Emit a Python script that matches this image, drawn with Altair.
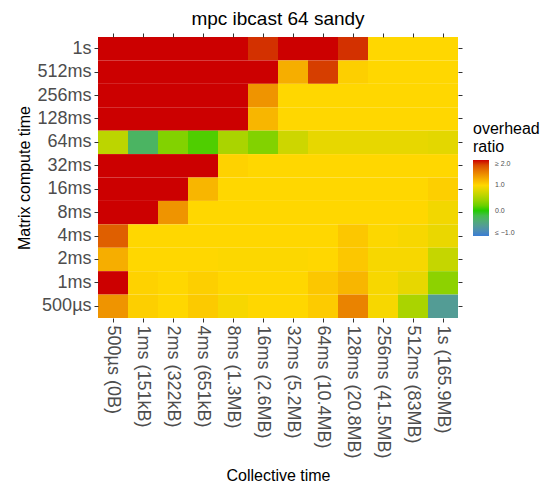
import altair as alt
import pandas as pd

rows = ["1s", "512ms", "256ms", "128ms", "64ms", "32ms", "16ms", "8ms",
        "4ms", "2ms", "1ms", "500µs"]
cols = ["500µs (0B)", "1ms (151kB)", "2ms (322kB)", "4ms (651kB)", "8ms (1.3MB)",
        "16ms (2.6MB)", "32ms (5.2MB)", "64ms (10.4MB)", "128ms (20.8MB)",
        "256ms (41.5MB)", "512ms (83MB)", "1s (165.9MB)"]

# overhead ratio, one list per row (top to bottom), columns left to right
r_1s    = [2.6, 2.6, 2.6, 2.6, 2.6, 1.9, 2.6, 2.6, 1.9, 1.0, 1.0, 1.0]
r_512ms = [2.6, 2.6, 2.6, 2.6, 2.6, 2.6, 1.25, 1.85, 1.05, 1.0, 1.0, 1.0]
r_256ms = [2.6, 2.6, 2.6, 2.6, 2.6, 1.4, 1.0, 1.0, 1.0, 1.0, 1.0, 1.0]
r_128ms = [2.6, 2.6, 2.6, 2.6, 2.6, 1.2, 1.0, 1.0, 1.0, 1.0, 1.0, 1.0]
r_64ms  = [0.6, -0.3, 0.3, 0.1, 0.5, 0.3, 0.7, 0.85, 0.85, 0.85, 0.85, 0.83]
r_32ms  = [2.6, 2.6, 2.6, 2.6, 1.03, 1.0, 1.0, 1.0, 1.0, 1.0, 1.0, 1.0]
r_16ms  = [2.6, 2.6, 2.6, 1.2, 1.0, 1.0, 1.0, 1.0, 1.0, 1.0, 1.0, 1.05]
r_8ms   = [2.6, 2.6, 1.4, 1.0, 1.0, 1.0, 1.0, 1.0, 1.0, 1.0, 1.0, 0.92]
r_4ms   = [1.7, 1.0, 1.0, 1.0, 1.0, 1.0, 1.0, 1.0, 1.1, 0.98, 0.95, 0.87]
r_2ms   = [1.25, 1.0, 1.0, 1.0, 0.98, 0.98, 0.98, 1.0, 1.1, 0.95, 0.95, 0.65]
r_1ms   = [2.3, 1.03, 1.0, 1.05, 1.0, 1.0, 1.0, 1.1, 1.2, 0.95, 0.85, 0.35]
r_500us = [1.4, 1.05, 1.0, 1.08, 0.95, 1.0, 1.0, 1.07, 1.5, 0.95, 0.5, -0.6]

grid = [r_1s, r_512ms, r_256ms, r_128ms, r_64ms, r_32ms, r_16ms, r_8ms,
        r_4ms, r_2ms, r_1ms, r_500us]

records = []
for rname, vals in zip(rows, grid):
    for cname, v in zip(cols, vals):
        records.append({"row": rname, "col": cname, "ratio": v})
df = pd.DataFrame(records)

FONT = "Liberation Sans"
label_color = "#4d4d4d"

color_scale = alt.Scale(domain=[-1, 0, 1, 2],
                        range=["#3a7dd4", "#22cc00", "#ffd700", "#cc0000"],
                        interpolate="lab", clamp=True)

xscale = alt.Scale(paddingInner=0, paddingOuter=0)
yscale = alt.Scale(paddingInner=0, paddingOuter=0)

axis_common = dict(domain=False, grid=False, ticks=True, tickColor="#333333",
                   tickSize=4, tickWidth=1, labelFont=FONT, labelColor=label_color,
                   labelFontSize=18, titleFont=FONT, titleFontSize=16,
                   titleFontWeight="normal", titleColor="black", labelPadding=3)

heat = alt.Chart(df).mark_rect().encode(
    x=alt.X("col:N", sort=cols, scale=xscale,
            axis=alt.Axis(title="Collective time", labelAngle=90, titlePadding=9,
                          **axis_common)),
    y=alt.Y("row:N", sort=rows, scale=yscale,
            axis=alt.Axis(title="Matrix compute time", titlePadding=4, **axis_common)),
    color=alt.Color("ratio:Q", scale=color_scale,
                    legend=alt.Legend(
                        title=["overhead", "ratio"], titleFont=FONT, titleFontSize=16,
                        titleFontWeight="normal", titleColor="black",
                        values=[-1, 0, 1, 2], gradientLength=76, gradientThickness=16,
                        labelFontSize=7, labelFont=FONT, labelColor=label_color,
                        labelAlign="right", labelOffset=6,
                        labelExpr="datum.value >= 2 ? '≥ 2.0' : datum.value <= -1 ? '≤ −1.0' : format(datum.value, '.1f')",
                        orient="none", legendX=375, legendY=84, direction="vertical",
                        gradientStrokeWidth=0)),
)

mirror = alt.Chart(df).mark_rect(opacity=0).encode(
    x=alt.X("col:N", sort=cols, scale=xscale,
            axis=alt.Axis(orient="top", labels=False, title=None, domain=False,
                          grid=False, tickColor="#333333", tickSize=4, tickWidth=1)),
    y=alt.Y("row:N", sort=rows, scale=yscale,
            axis=alt.Axis(orient="right", labels=False, title=None, domain=False,
                          grid=False, tickColor="#333333", tickSize=4, tickWidth=1)),
)

chart = alt.layer(heat, mirror).resolve_axis(
    x="independent", y="independent"
).properties(
    width=360, height=281,
    title=alt.Title("mpc ibcast 64 sandy", font=FONT, fontSize=19,
                    fontWeight="normal", color="black", offset=4, anchor="middle"),
    autosize=alt.AutoSizeParams(type="none"),
    padding={"left": 90, "top": 29, "right": 88, "bottom": 166},
).configure_view(stroke=None)

chart.save("out.html", embed_options={"renderer": "svg", "actions": False})
